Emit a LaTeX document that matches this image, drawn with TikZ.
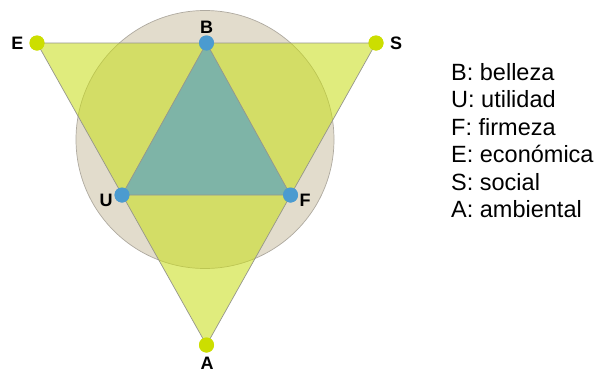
\documentclass[tikz,border=0pt]{standalone}
\usepackage{fontspec}
\setmainfont{Liberation Sans}
\definecolor{beige}{RGB}{226,220,204}
\definecolor{circline}{RGB}{175,170,160}
\definecolor{ygreen}{RGB}{200,222,20}
\definecolor{ydot}{RGB}{204,222,0}
\definecolor{bdot}{RGB}{75,155,208}
\definecolor{edgegray}{RGB}{150,150,140}
\begin{document}
\begin{tikzpicture}[x=1pt,y=-1pt,
  edge/.style={draw=edgegray, line width=0.7pt},
  ydotst/.style={circle, fill=ydot, minimum size=15pt, inner sep=0pt},
  bdotst/.style={circle, fill=bdot, minimum size=15pt, inner sep=0pt},
  vlabel/.style={inner sep=0pt, font=\fontsize{18}{21}\selectfont\bfseries},
  legend/.style={anchor=base west, inner sep=0pt, font=\fontsize{23.5}{27}\selectfont}]
\useasboundingbox (0,0) rectangle (600,370);
\fill[white] (0,0) rectangle (600,370);
% circle
\draw[fill=beige, draw=circline, line width=0.7pt] (205,139.5) circle[radius=129];
% vertex dots
\node[ydotst] (E) at (37,43) {};
\node[ydotst] (S) at (376,43) {};
\node[ydotst] (A) at (206.5,345) {};
\node[bdotst] (B) at (206.5,43) {};
\node[bdotst] (U) at (122,195) {};
\node[bdotst] (F) at (290.5,195) {};
% big triangle
\fill[ygreen, fill opacity=0.55] (E.center) -- (S.center) -- (A.center) -- cycle;
\draw[edge] (E.center) -- (S.center) -- (A.center) -- cycle;
% inner triangle
\fill[bdot, fill opacity=0.62] (B.center) -- (U.center) -- (F.center) -- cycle;
\draw[edge] (B.center) -- (U.center) -- (F.center) -- cycle;
% redraw dots on top
\node[ydotst] (E2) at (E) {};
\node[ydotst] (S2) at (S) {};
\node[ydotst] (A2) at (A) {};
\node[bdotst] (B2) at (B) {};
\node[bdotst] (U2) at (U) {};
\node[bdotst] (F2) at (F) {};
% labels
\node[vlabel] (lB) at (206.5,27) {B};
\node[vlabel] (lE) at (17.5,43) {E};
\node[vlabel] (lS) at (396,43) {S};
\node[vlabel] (lU) at (106,200) {U};
\node[vlabel] (lF) at (305,200) {F};
\node[vlabel] (lA) at (207,363) {A};
% legend
\node[legend] (g1) at (451,80) {B: belleza};
\node[legend] (g2) at (451,107.5) {U: utilidad};
\node[legend] (g3) at (451,135) {F: firmeza};
\node[legend] (g4) at (451,162.5) {E: económica};
\node[legend] (g5) at (451,190) {S: social};
\node[legend] (g6) at (451,217.5) {A: ambiental};
\end{tikzpicture}
\end{document}
